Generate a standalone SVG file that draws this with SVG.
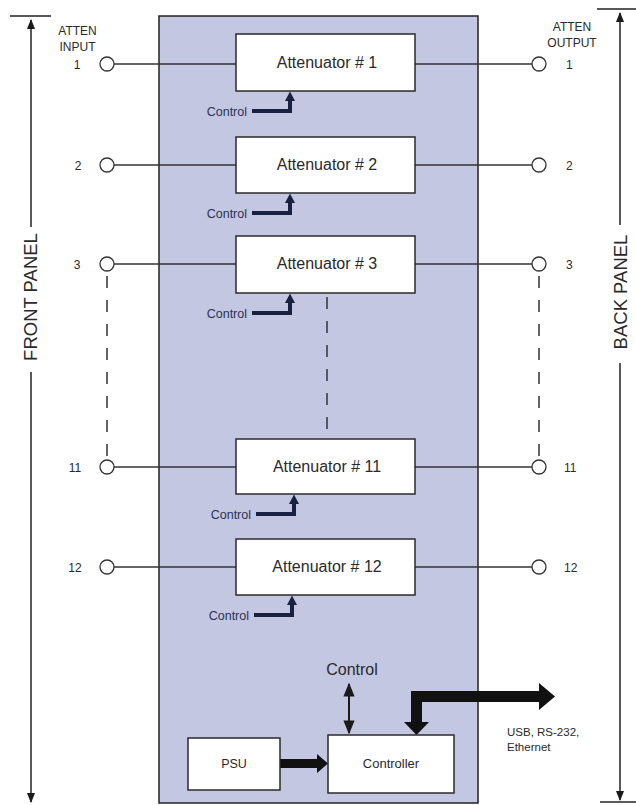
<svg xmlns="http://www.w3.org/2000/svg" width="636" height="805" viewBox="0 0 636 805">
<style>
text{font-family:"Liberation Sans",Arial,sans-serif;fill:#2a2a2a}
.box{fill:#fff;stroke:#2a2a2a;stroke-width:1.5}
.sig{stroke:#333;stroke-width:1.3;fill:none}
.port{fill:#fff;stroke:#333;stroke-width:1.3}
.dash{stroke:#333;stroke-width:1.5;stroke-dasharray:12 12;fill:none}
.att{font-size:16px;text-anchor:middle}
.num{font-size:12px}
.ctl{font-size:12.5px;text-anchor:end;fill:#2b3352}
.carr{stroke:#1a2040;stroke-width:4;fill:none}
.chead{fill:#1a2040}
.pan{font-size:18.5px;text-anchor:middle}
.dim{stroke:#222;stroke-width:1.5;fill:none}
</style>
<defs>
<marker id="ah" viewBox="0 0 10 10" refX="9" refY="5" markerWidth="7" markerHeight="7" orient="auto-start-reverse"><path d="M0,1 L10,5 L0,9 Z" fill="#1a1a1a"/></marker>
</defs>
<rect id="panel" x="159" y="16" width="319" height="787" fill="#c4c7e1" stroke="#222" stroke-width="1.5"/>

<g id="front-panel">
<line class="dim" x1="10" y1="16" x2="51" y2="16"/>
<line class="dim" x1="31" y1="227" x2="31" y2="20" marker-end="url(#ah)"/>
<line class="dim" x1="31" y1="372" x2="31" y2="802" marker-end="url(#ah)"/>
<text class="pan" transform="translate(37,297) rotate(-90)">FRONT PANEL</text>
</g>
<g id="back-panel">
<line class="dim" x1="597" y1="9" x2="636" y2="9"/>
<line class="dim" x1="620" y1="225" x2="620" y2="13" marker-end="url(#ah)"/>
<line class="dim" x1="620" y1="363" x2="620" y2="800" marker-end="url(#ah)"/>
<line class="dim" x1="600" y1="802" x2="636" y2="802"/>
<text class="pan" transform="translate(627,292) rotate(-90)">BACK PANEL</text>
</g>

<g id="labels">
<text class="num" x="77.5" y="35" text-anchor="middle">ATTEN</text>
<text class="num" x="77.5" y="51" text-anchor="middle">INPUT</text>
<text class="num" x="572" y="31" text-anchor="middle">ATTEN</text>
<text class="num" x="572" y="47" text-anchor="middle">OUTPUT</text>
</g>

<g id="connectors">
<line class="sig" x1="114" y1="64" x2="236" y2="64"/>
<line class="sig" x1="415" y1="64" x2="532" y2="64"/>
<line class="sig" x1="114" y1="165" x2="236" y2="165"/>
<line class="sig" x1="415" y1="165" x2="532" y2="165"/>
<line class="sig" x1="114" y1="264" x2="236" y2="264"/>
<line class="sig" x1="415" y1="264" x2="532" y2="264"/>
<line class="sig" x1="114" y1="467" x2="236" y2="467"/>
<line class="sig" x1="415" y1="467" x2="532" y2="467"/>
<line class="sig" x1="114" y1="567" x2="236" y2="567"/>
<line class="sig" x1="415" y1="567" x2="532" y2="567"/>
<line class="dash" x1="107" y1="276" x2="107" y2="460"/>
<line class="dash" x1="539" y1="276" x2="539" y2="460"/>
<line class="dash" x1="327" y1="297" x2="327" y2="439"/>
<path class="carr" d="M252,111 H290 V98"/><polygon class="chead" points="290,91.5 285,101 295,101"/>
<path class="carr" d="M252,213 H290 V200"/><polygon class="chead" points="290,193.5 285,203 295,203"/>
<path class="carr" d="M252,313 H290 V300"/><polygon class="chead" points="290,293.5 285,303 295,303"/>
<path class="carr" d="M256,514 H294 V501"/><polygon class="chead" points="294,494.5 289,504 299,504"/>
<path class="carr" d="M254,615 H292 V602"/><polygon class="chead" points="292,595.5 287,605 297,605"/>
<line x1="349" y1="684" x2="349" y2="733" stroke="#1a1a1a" stroke-width="2" marker-start="url(#ah)" marker-end="url(#ah)"/>
<polygon fill="#111" points="280,759 317,759 317,754 328,763.5 317,773 317,768 280,768"/>
<polygon fill="#111" points="416.5,735 429,722 422,722 422,702 539,702 539,710 555,696.5 539,683 539,691 411,691 411,722 404,722"/>
</g>

<g id="ports">
<circle class="port" cx="107" cy="64" r="7"/><circle class="port" cx="539" cy="64" r="7"/>
<circle class="port" cx="107" cy="165" r="7"/><circle class="port" cx="539" cy="165" r="7"/>
<circle class="port" cx="107" cy="264" r="7"/><circle class="port" cx="539" cy="264" r="7"/>
<circle class="port" cx="107" cy="467" r="7"/><circle class="port" cx="539" cy="467" r="7"/>
<circle class="port" cx="107" cy="567" r="7"/><circle class="port" cx="539" cy="567" r="7"/>
<g class="num" text-anchor="middle">
<text x="77" y="68.5" text-anchor="middle">1</text>
<text x="78" y="169.5" text-anchor="middle">2</text>
<text x="77" y="268.5" text-anchor="middle">3</text>
<text x="75" y="471.5" text-anchor="middle">11</text>
<text x="75" y="571.5" text-anchor="middle">12</text>
</g>
<text class="num" x="566" y="68.5">1</text>
<text class="num" x="566" y="169.5">2</text>
<text class="num" x="566" y="268.5">3</text>
<text class="num" x="564" y="471.5">11</text>
<text class="num" x="564" y="571.5">12</text>
</g>

<g id="att1"><rect class="box" x="236" y="34" width="179" height="57"/><text class="att" x="327" y="68">Attenuator # 1</text><text class="ctl" x="247" y="115.5">Control</text></g>
<g id="att2"><rect class="box" x="236" y="137" width="179" height="56"/><text class="att" x="327" y="170">Attenuator # 2</text><text class="ctl" x="247" y="217.5">Control</text></g>
<g id="att3"><rect class="box" x="236" y="236" width="179" height="57"/><text class="att" x="327" y="269">Attenuator # 3</text><text class="ctl" x="247" y="317.5">Control</text></g>
<g id="att11"><rect class="box" x="236" y="439" width="179" height="55"/><text class="att" x="327" y="472">Attenuator # 11</text><text class="ctl" x="251" y="518.5">Control</text></g>
<g id="att12"><rect class="box" x="236" y="539" width="179" height="56"/><text class="att" x="327" y="572">Attenuator # 12</text><text class="ctl" x="249" y="619.5">Control</text></g>

<g id="psu"><rect class="box" x="188" y="738" width="92" height="52"/><text x="234" y="768" font-size="12.5" text-anchor="middle">PSU</text></g>
<g id="controller"><rect class="box" x="328" y="735" width="126" height="58"/><text x="391" y="768" font-size="13" text-anchor="middle">Controller</text></g>
<text x="352" y="675" font-size="16" text-anchor="middle">Control</text>
<text x="507" y="736" font-size="11.5">USB, RS-232,</text>
<text x="507" y="751" font-size="11.5">Ethernet</text>
</svg>
